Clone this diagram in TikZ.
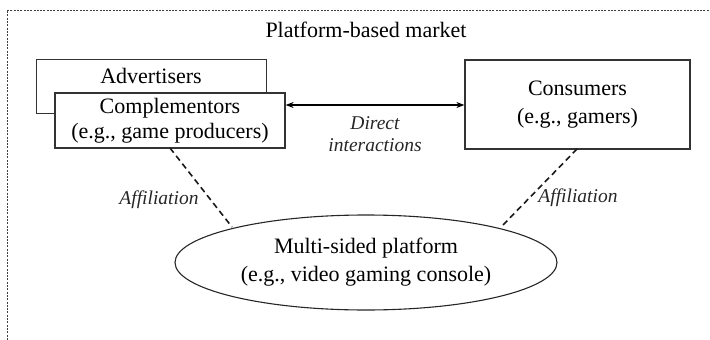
\documentclass[tikz,border=0pt]{standalone}
\usepackage{fontspec}
\setmainfont{Liberation Serif}
\usetikzlibrary{shapes.geometric,arrows.meta}
\begin{document}
\begin{tikzpicture}[x=1pt,y=-1pt,
  txt/.style={font=\fontsize{22}{26}\selectfont, align=center, inner sep=0pt},
  box/.style={txt, draw=black!80, line width=1.2pt, fill=white},
  lbl/.style={font=\fontsize{19.5}{22}\selectfont\itshape, align=center, inner sep=0pt, text=black!85},
  aff/.style={draw=black!90, line width=1.6pt, dash pattern=on 6pt off 4pt},
  frame/.style={draw=black!75, line width=0.8pt, dash pattern=on 2pt off 1.3pt}]
\useasboundingbox (0,0) rectangle (710,340);
\coordinate (ftl) at (7,10);
\coordinate (ftr) at (712,10);
\coordinate (fbl) at (7,342);
\draw[frame] (ftr) -- (ftl) -- (fbl);
\node[txt] (title) at (366,30) {Platform-based market};
\node[box, minimum width=230pt, minimum height=54pt, anchor=north west] (adv) at (36,59) {};
\node[txt] (advtext) at (151,76) {Advertisers};
\node[box, minimum width=230pt, minimum height=55pt, font=\fontsize{22}{25}\selectfont] (comp) at (170,120.5) {Complementors\\(e.g., game producers)};
\node[box, minimum width=225pt, minimum height=89pt, font=\fontsize{22}{28}\selectfont] (cons) at (577.5,104.5) {Consumers\\(e.g., gamers)};
\node[draw=black!85, line width=1.1pt, ellipse, minimum width=382pt, minimum height=95pt, inner sep=0pt,
  txt, font=\fontsize{22}{28}\selectfont] (msp) at (366,262.5) {Multi-sided platform\\(e.g., video gaming console)};
\draw[line width=1.5pt, {Stealth[length=8pt,width=6pt]}-{Stealth[length=8pt,width=6pt]}] (comp.east |- 0,105) -- (cons.west |- 0,105);
\node[lbl, font=\fontsize{19.5}{22.5}\selectfont\itshape] (direct) at (375,134) {Direct\\interactions};
\coordinate (cl) at (170,148);
\coordinate (cr) at (577,149);
\coordinate (ml) at (232,227);
\coordinate (mr) at (503,225);
\draw[aff] (cl) -- (ml);
\draw[aff] (cr) -- (mr);
\node[lbl] (affl) at (159,200) {Affiliation};
\node[lbl] (affr) at (578,198) {Affiliation};
\end{tikzpicture}
\end{document}
